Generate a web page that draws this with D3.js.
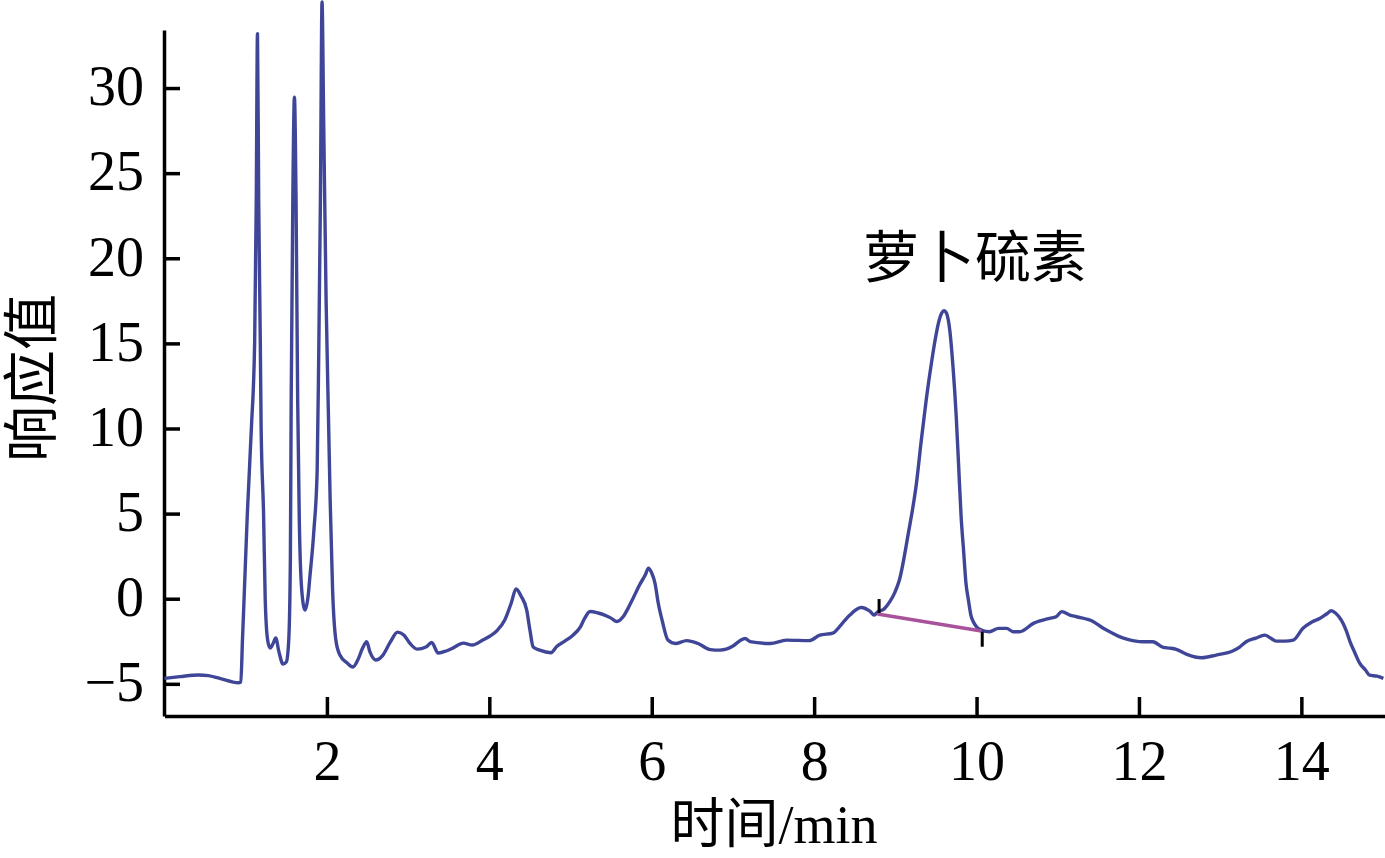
<!DOCTYPE html>
<html><head><meta charset="utf-8">
<script src="https://cdn.jsdelivr.net/npm/d3@7"></script>
<style>
html,body{margin:0;padding:0;background:#fff;}
svg{display:block;}
</style></head>
<body>
<svg id="chart" width="1385" height="858"></svg>
<script>
// ---- data ----
const times = [0.00,0.19,0.42,0.54,0.68,0.91,0.94,0.96,0.98,1.02,1.07,1.11,1.13,1.145,1.16,1.18,1.19,1.22,1.24,1.27,1.30,1.34,1.37,1.41,1.46,1.50,1.53,1.55,1.56,1.58,1.60,1.62,1.64,1.66,1.69,1.73,1.77,1.79,1.84,1.88,1.90,1.92,1.94,1.96,1.99,2.02,2.04,2.07,2.11,2.16,2.25,2.32,2.38,2.44,2.49,2.53,2.60,2.69,2.78,2.87,2.95,3.02,3.11,3.22,3.29,3.37,3.47,3.55,3.68,3.79,3.92,4.01,4.09,4.19,4.27,4.33,4.39,4.46,4.50,4.54,4.62,4.76,4.83,4.93,5.03,5.12,5.17,5.24,5.34,5.42,5.50,5.57,5.65,5.71,5.76,5.85,5.92,5.96,6.00,6.04,6.08,6.13,6.20,6.29,6.43,6.57,6.72,6.84,7.00,7.09,7.15,7.21,7.46,7.66,7.94,8.07,8.23,8.35,8.44,8.58,8.69,8.74,8.78,8.86,8.93,8.99,9.05,9.16,9.26,9.32,9.38,9.45,9.49,9.53,9.57,9.60,9.63,9.67,9.71,9.75,9.78,9.81,9.84,9.87,9.90,9.93,9.96,10.00,10.06,10.16,10.27,10.37,10.45,10.53,10.70,10.90,10.98,11.05,11.15,11.23,11.44,11.56,11.64,11.76,11.85,12.05,12.17,12.30,12.38,12.46,12.59,12.77,12.95,13.16,13.24,13.32,13.44,13.55,13.62,13.69,13.80,13.90,14.02,14.13,14.23,14.31,14.37,14.42,14.49,14.55,14.60,14.66,14.72,14.79,14.84,14.93,15.01];
const responses = [-4.68,-4.58,-4.48,-4.52,-4.68,-4.94,-4.90,-2.43,0,4.98,10.03,15.02,23.4,33.2,23.4,15.0,10.03,4.98,0,-2.43,-2.90,-2.60,-2.31,-3.14,-3.84,-3.72,-2.43,2.27,11.67,23.4,29.46,23.4,11.67,4.62,0.51,-0.66,0.22,1.27,4.03,7.55,14.6,23.4,35.06,28.12,17.55,10.5,5.80,0.51,-2.43,-3.31,-3.78,-4.01,-3.60,-2.90,-2.52,-3.13,-3.60,-3.31,-2.55,-1.96,-2.14,-2.61,-2.96,-2.84,-2.57,-3.19,-3.07,-2.90,-2.61,-2.72,-2.43,-2.19,-1.90,-1.25,-0.25,0.57,0.16,-0.66,-1.84,-2.84,-3.02,-3.17,-2.81,-2.49,-2.14,-1.67,-1.19,-0.75,-0.84,-0.96,-1.14,-1.34,-1.05,-0.55,-0.08,0.81,1.39,1.80,1.51,0.92,-0.25,-1.31,-2.43,-2.63,-2.46,-2.63,-2.99,-3.02,-2.78,-2.46,-2.34,-2.52,-2.63,-2.43,-2.46,-2.14,-2.02,-1.43,-0.96,-0.52,-0.75,-0.96,-0.78,-0.61,-0.19,0.33,1.10,3.84,6.78,9.32,11.67,14.02,15.20,16.18,16.77,16.92,16.77,15.79,13.63,10.69,7.76,4.82,2.86,0.90,-0.08,-0.96,-1.35,-1.65,-1.84,-1.94,-1.74,-1.74,-1.94,-1.94,-1.45,-1.15,-1.06,-0.76,-0.96,-1.06,-1.35,-1.74,-1.94,-2.23,-2.37,-2.53,-2.53,-2.86,-2.90,-2.97,-3.27,-3.47,-3.31,-3.06,-2.84,-2.53,-2.31,-2.14,-2.31,-2.49,-2.49,-2.43,-1.74,-1.37,-1.15,-0.90,-0.71,-0.84,-1.25,-1.84,-2.53,-3.19,-3.80,-4.19,-4.49,-4.55,-4.68];

// integration baseline of the sulforaphane peak
const baselineTimes = [8.78, 10.06];
const baselineValues = [-0.90, -1.90];
// integration start / end markers
const markerTimes = [8.80, 10.07];
const markerLow = [-0.84, -2.82];
const markerHigh = [-0.02, -1.94];

const xTicks = [2,4,6,8,10,12,14];
const yTicks = [-5,0,5,10,15,20,25,30];
const peakLabel = "萝卜硫素";
const xTitle = "时间/min";
const yTitle = "响应值";

// ---- layout ----
const svg = d3.select("#chart");
const x = d3.scaleLinear().domain([0, 15.03]).range([164.5, 1385]);
const y = d3.scaleLinear().domain([-6.89, 33.41]).range([716, 30]);

const numFont = "'Liberation Serif','Times New Roman',serif";
const cjkFont = "'Liberation Serif','Noto Sans CJK SC',serif";

// axes
const xAxis = d3.axisBottom(x).tickValues(xTicks).tickSizeInner(-19).tickSizeOuter(0).tickPadding(0)
  .tickFormat(d3.format("d"));
const gx = svg.append("g").attr("transform", "translate(0,716)").call(xAxis);
gx.select(".domain").attr("stroke", "#000").attr("stroke-width", 3.5);
gx.selectAll(".tick line").attr("stroke", "#000").attr("stroke-width", 3.5);
gx.selectAll(".tick text").attr("font-family", numFont).attr("font-size", 56)
  .attr("fill", "#000").attr("y", 64).attr("dy", 0);

const yAxis = d3.axisLeft(y).tickValues(yTicks).tickSizeInner(-16).tickSizeOuter(0).tickPadding(0)
  .tickFormat(d3.format("d"));
const gy = svg.append("g").attr("transform", "translate(164,0)").call(yAxis);
gy.select(".domain").attr("stroke", "#000").attr("stroke-width", 3.5);
gy.selectAll(".tick line").attr("stroke", "#000").attr("stroke-width", 3.5);
gy.selectAll(".tick text").attr("font-family", numFont).attr("font-size", 56)
  .attr("fill", "#000").attr("x", -20).attr("dy", "0.3em");

// chromatogram
const pts = times.map((t, i) => [t, responses[i]]);
const line = d3.line().x(d => x(d[0])).y(d => y(d[1])).curve(d3.curveMonotoneX);
svg.append("path").datum(pts).attr("d", line)
  .attr("fill", "none").attr("stroke", "#3f4697").attr("stroke-width", 3.4)
  .attr("stroke-linejoin", "round");

// baseline
const bl = baselineTimes.map((t, i) => [t, baselineValues[i]]);
svg.append("path").datum(bl).attr("d", d3.line().x(d => x(d[0])).y(d => y(d[1])))
  .attr("stroke", "#a8529b").attr("stroke-width", 3.5).attr("fill", "none");

// markers
svg.selectAll("line.marker").data(markerTimes).join("line").attr("class", "marker")
  .attr("x1", d => x(d)).attr("x2", d => x(d))
  .attr("y1", (d, i) => y(markerLow[i])).attr("y2", (d, i) => y(markerHigh[i]))
  .attr("stroke", "#000").attr("stroke-width", 3);

// labels
svg.append("text").attr("x", 975).attr("y", 277).attr("text-anchor", "middle")
  .attr("font-family", cjkFont).attr("font-size", 56).attr("fill", "#000").text(peakLabel);
svg.append("text").attr("x", 774).attr("y", 843).attr("text-anchor", "middle")
  .attr("font-family", cjkFont).attr("font-size", 54).attr("fill", "#000").text(xTitle);
svg.append("text").attr("transform", "translate(51,378) rotate(-90)").attr("text-anchor", "middle")
  .attr("font-family", cjkFont).attr("font-size", 56).attr("fill", "#000").text(yTitle);
</script>
</body></html>
